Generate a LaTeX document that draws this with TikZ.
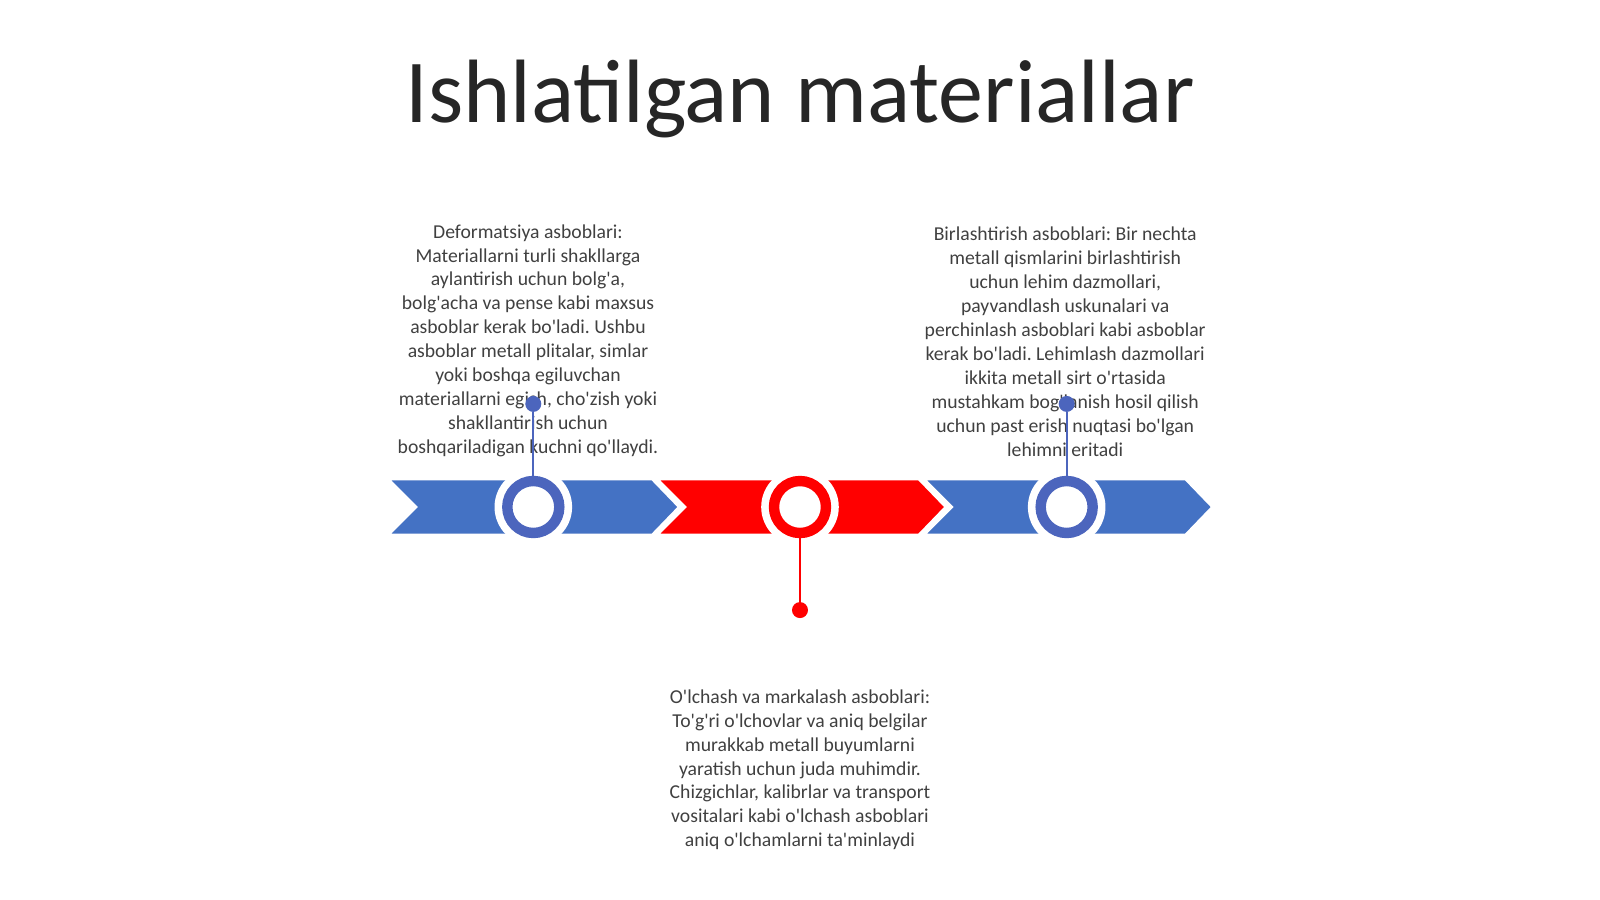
\documentclass[tikz,border=0pt]{standalone}
\usepackage{fontspec}
\setmainfont{Carlito}[Ligatures=TeXOff]
\usetikzlibrary{positioning}
\definecolor{myblue}{HTML}{4472C4}
\definecolor{ringblue}{HTML}{4C65BD}
\definecolor{myred}{HTML}{FF0000}
\definecolor{txtgray}{HTML}{404040}
\frenchspacing

\begin{document}
\begin{tikzpicture}[
    chev/.style={draw=white, line width=2pt, line join=miter},
    ring/.style={circle, draw, line width=0.26cm, fill=white, minimum size=1.3cm, inner sep=0, outer sep=0},
    dot/.style={circle, minimum size=0.4cm, inner sep=0},
    stem/.style={line width=1.5pt},
    txt/.style={align=center, text=txtgray, font=\fontsize{14}{17}\selectfont, inner sep=0}
  ]
    \useasboundingbox (-20,-9.8) rectangle (20,12.675);

    \node(title) [anchor=base, text=black!85, font=\fontsize{64}{70}\selectfont] at (0,9.6) {Ishlatilgan materiallar};

    \node(t1) [txt, anchor=north] at (-6.8,7.07) {Deformatsiya asboblari:\\Materiallarni turli shakllarga\\aylantirish uchun bolg'a,\\bolg'acha va pense kabi maxsus\\asboblar kerak bo'ladi. Ushbu\\asboblar metall plitalar, simlar\\yoki boshqa egiluvchan\\materiallarni egish, cho'zish yoki\\shakllantirish uchun\\boshqariladigan kuchni qo'llaydi.};
    \node(t2) [txt, anchor=north] at (6.63,7.0) {Birlashtirish asboblari: Bir nechta\\metall qismlarini birlashtirish\\uchun lehim dazmollari,\\payvandlash uskunalari va\\perchinlash asboblari kabi asboblar\\kerak bo'ladi. Lehimlash dazmollari\\ikkita metall sirt o'rtasida\\mustahkam bog'lanish hosil qilish\\uchun past erish nuqtasi bo'lgan\\lehimni eritadi};
    \node(t3) [txt, anchor=north] at (0,-4.56) {O'lchash va markalash asboblari:\\To'g'ri o'lchovlar va aniq belgilar\\murakkab metall buyumlarni\\yaratish uchun juda muhimdir.\\Chizgichlar, kalibrlar va transport\\vositalari kabi o'lchash asboblari\\aniq o'lchamlarni ta'minlaydi};

    % chevrons
    \draw[chev, fill=myblue] (-10.3,0.7) -- ++(6.608,0) -- ++(0.675,-0.7) -- ++(-0.675,-0.7) -- ++(-6.608,0) -- ++(0.7,0.7) -- cycle;
    \draw[chev, fill=myred] (-3.575,0.7) -- ++(6.55,0) -- ++(0.675,-0.7) -- ++(-0.675,-0.7) -- ++(-6.55,0) -- ++(0.7,0.7) -- cycle;
    \draw[chev, fill=myblue] (3.092,0.7) -- ++(6.55,0) -- ++(0.675,-0.7) -- ++(-0.675,-0.7) -- ++(-6.55,0) -- ++(0.7,0.7) -- cycle;

    \fill[white] (-6.667,0) circle (0.97);
    \fill[white] (0,0) circle (0.97);
    \fill[white] (6.667,0) circle (0.97);

    \node(c1) [ring, draw=ringblue] at (-6.667,0) {};
    \node(c2) [ring, draw=myred] at (0,0) {};
    \node(c3) [ring, draw=ringblue] at (6.667,0) {};

    \node(d1) [dot, fill=ringblue, above=1.72 of c1] {};
    \node(d2) [dot, fill=myred, below=1.72 of c2] {};
    \node(d3) [dot, fill=ringblue, above=1.72 of c3] {};

    \draw[stem, ringblue] (c1) -- (d1);
    \draw[stem, myred] (c2) -- (d2);
    \draw[stem, ringblue] (c3) -- (d3);
  \end{tikzpicture}
\end{document}
